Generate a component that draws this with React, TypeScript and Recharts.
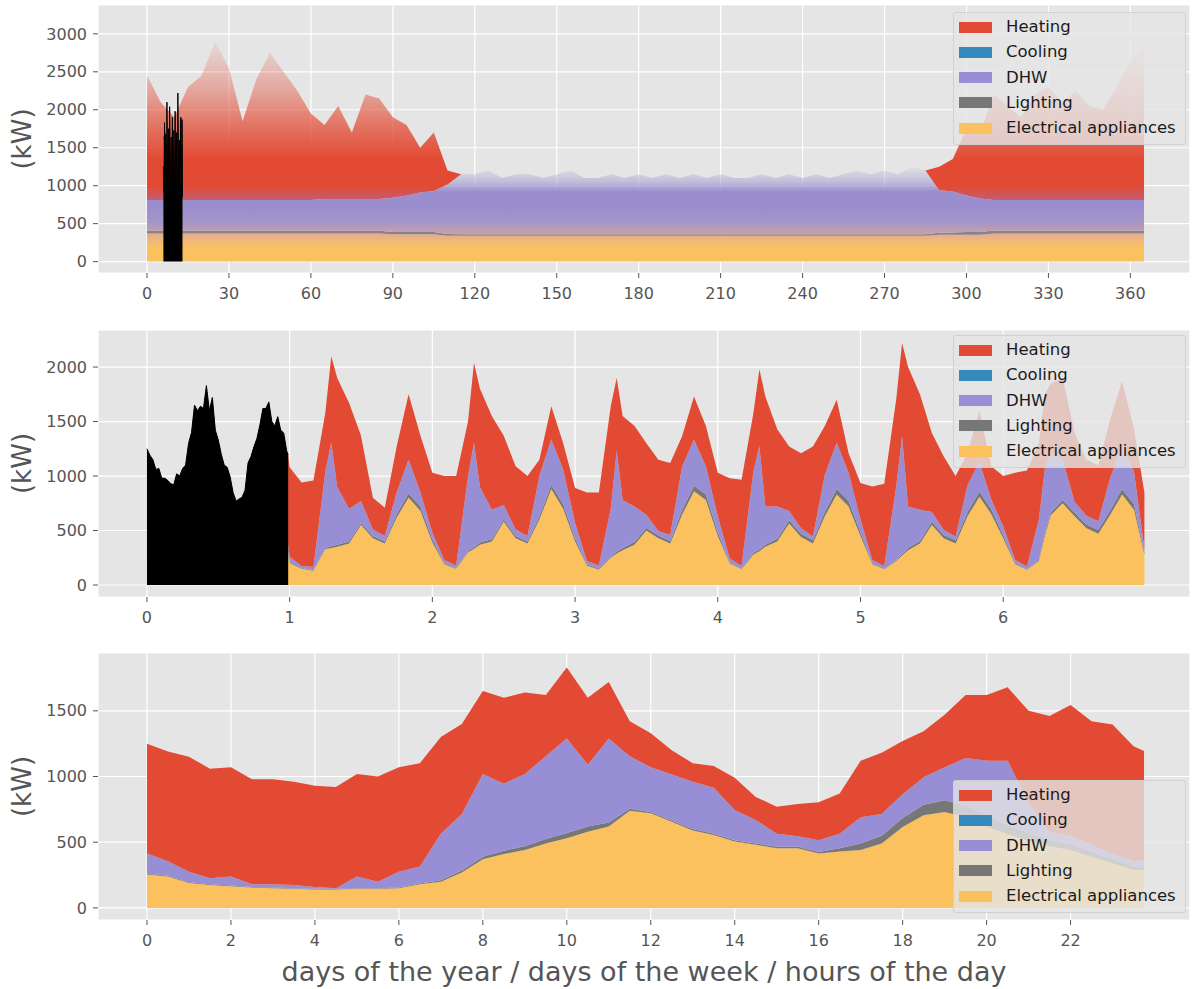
import React from "react";
import { AreaChart, Area, XAxis, YAxis, CartesianGrid } from "recharts";

const FONT = "DejaVu Sans, sans-serif";

const COLORS = {
  heating: "#E24A33",
  cooling: "#348ABD",
  dhw: "#988ED5",
  lighting: "#777777",
  appliances: "#FBC15E",
};

// ---- year (every 5 days); dhw / heating reach the top of the faint spikes ----
const yearDays = [
  0, 5, 10, 15, 20, 25, 30, 35, 40, 45, 50, 55, 60, 65, 70, 75, 80, 85, 90, 95, 100, 105, 110, 115,
  120, 125, 130, 135, 140, 145, 150, 155, 160, 165, 170, 175, 180, 185, 190, 195, 200, 205, 210, 215,
  220, 225, 230, 235, 240, 245, 250, 255, 260, 265, 270, 275, 280, 285, 290, 295, 300, 305, 310, 315,
  320, 325, 330, 335, 340, 345, 350, 355, 360, 365,
];
const yearAppliances = [
  370, 370, 370, 370, 370, 370, 370, 370, 370, 370, 370, 370, 370, 370, 370, 370, 370, 370, 360, 360,
  360, 360, 340, 340, 340, 340, 340, 340, 340, 340, 340, 340, 340, 340, 340, 340, 340, 340, 340, 340,
  340, 340, 340, 340, 340, 340, 340, 340, 340, 340, 340, 340, 340, 340, 340, 340, 340, 340, 355, 355,
  355, 355, 370, 370, 370, 370, 370, 370, 370, 370, 370, 370, 370, 370,
];
const yearLighting = [
  40, 40, 40, 40, 40, 40, 40, 40, 40, 40, 40, 40, 40, 35, 35, 35, 35, 35, 30, 30, 30, 30, 25, 20, 20,
  20, 20, 20, 20, 20, 20, 20, 20, 20, 20, 20, 20, 20, 20, 20, 20, 20, 20, 20, 20, 20, 20, 20, 20, 20,
  20, 20, 20, 20, 20, 20, 20, 20, 25, 30, 35, 35, 40, 40, 40, 40, 40, 40, 40, 40, 40, 40, 40, 40,
];
const yearDhw = [
  400, 400, 400, 400, 400, 400, 400, 400, 400, 400, 400, 400, 400, 420, 420, 420, 420, 420, 450, 480,
  520, 540, 650, 790, 790, 840, 740, 790, 790, 740, 790, 840, 740, 740, 790, 740, 790, 740, 790, 740,
  790, 740, 790, 740, 740, 790, 740, 790, 740, 790, 740, 790, 840, 790, 840, 790, 890, 840, 560, 540,
  480, 440, 400, 400, 400, 400, 400, 400, 400, 400, 400, 400, 400, 400,
];
const yearHeating = [
  1640, 1290, 1090, 1490, 1640, 2090, 1740, 1040, 1590, 1940, 1690, 1440, 1140, 975, 1225, 875, 1375,
  1325, 1060, 930, 590, 770, 185, 0, 0, 0, 0, 0, 0, 0, 0, 0, 0, 0, 0, 0, 0, 0, 0, 0, 0, 0, 0, 0, 0, 0,
  0, 0, 0, 0, 0, 0, 0, 0, 0, 0, 0, 0, 310, 425, 880, 870, 1390, 1240, 1090, 1390, 1490, 1290, 1440,
  1240, 1190, 1490, 1840, 1990,
];

// ---- first day of the week (every 30 min) ----
const dayHours = [
  0, 0.5, 1, 1.5, 2, 2.5, 3, 3.5, 4, 4.5, 5, 5.5, 6, 6.5, 7, 7.5, 8, 8.5, 9, 9.5, 10, 10.5, 11, 11.5,
  12, 12.5, 13, 13.5, 14, 14.5, 15, 15.5, 16, 16.5, 17, 17.5, 18, 18.5, 19, 19.5, 20, 20.5, 21, 21.5,
  22, 22.5, 23, 23.5, 23.75,
];
const dayAppliances = [
  255, 240, 190, 175, 165, 155, 150, 145, 140, 140, 145, 145, 150, 180, 200, 270, 370, 410, 440, 490,
  530, 580, 620, 740, 720, 655, 590, 555, 505, 480, 455, 455, 415, 430, 440, 490, 615, 705, 730, 690,
  620, 560, 510, 470, 440, 390, 340, 290, 290,
];
const dayLighting = [
  5, 5, 5, 5, 5, 5, 5, 5, 5, 5, 5, 5, 5, 5, 10, 15, 20, 25, 30, 35, 40, 40, 30, 15, 10, 10, 10, 10, 10,
  10, 10, 10, 10, 25, 50, 60, 70, 80, 90, 90, 80, 70, 60, 50, 45, 40, 30, 25, 15,
];
const dayDhw = [
  155, 110, 80, 45, 70, 20, 25, 25, 15, 5, 90, 50, 120, 130, 355, 430, 630, 510, 550, 630, 720, 470,
  640, 400, 340, 350, 360, 350, 230, 180, 100, 80, 90, 110, 200, 165, 180, 210, 250, 360, 420, 490,
  230, 60, 60, 50, 40, 40, 60,
];
const dayHeating = [
  835, 835, 875, 835, 830, 800, 800, 785, 770, 770, 780, 800, 795, 785, 735, 685, 630, 655, 620, 465,
  540, 510, 430, 265, 260, 185, 140, 165, 245, 175, 205, 245, 290, 305, 430, 465, 405, 350, 400, 480,
  500, 560, 700, 880, 1000, 940, 985, 875, 830,
];

// ---- rest of the week (every 2 h, plus the 7 h morning peak) ----
const weekHours = [
  24, 26, 28, 30, 31, 32, 34, 36, 38, 40, 42, 44, 46,
  48, 50, 52, 54, 55, 56, 58, 60, 62, 64, 66, 68, 70,
  72, 74, 76, 78, 79, 80, 82, 84, 86, 88, 90, 92, 94,
  96, 98, 100, 102, 103, 104, 106, 108, 110, 112, 114, 116, 118,
  120, 122, 124, 126, 127, 128, 130, 132, 134, 136, 138, 140, 142,
  144, 146, 148, 150, 151, 152, 154, 156, 158, 160, 162, 164, 166,
  167.75,
];
const weekAppliances = [
  200, 150, 130, 330, 340, 350, 380, 550, 430, 380, 620, 800, 680,
  390, 190, 150, 300, 330, 370, 400, 580, 430, 380, 600, 880, 700,
  400, 180, 140, 250, 290, 320, 370, 500, 430, 380, 645, 860, 780,
  450, 200, 145, 280, 310, 350, 400, 565, 440, 380, 630, 830, 720,
  450, 190, 145, 220, 270, 320, 380, 550, 430, 380, 630, 810, 650,
  430, 190, 140, 220, 450, 640, 750, 630, 520, 470, 645, 830, 690,
  280,
];
const weekLighting = [
  10, 5, 5, 10, 15, 20, 20, 20, 20, 20, 30, 40, 40,
  30, 10, 5, 15, 15, 20, 20, 20, 20, 20, 30, 40, 40,
  30, 10, 10, 10, 15, 20, 25, 25, 25, 25, 40, 50, 50,
  35, 10, 5, 15, 15, 20, 25, 30, 30, 30, 40, 50, 50,
  35, 10, 5, 10, 15, 20, 25, 30, 30, 30, 40, 45, 45,
  30, 10, 5, 10, 20, 25, 30, 35, 35, 35, 40, 50, 50,
  20,
];
const weekDhw = [
  50, 20, 30, 700, 950, 530, 300, 200, 60, 50, 200, 310, 130,
  60, 30, 25, 680, 960, 510, 270, 135, 60, 50, 370, 415, 320,
  140, 30, 30, 440, 930, 440, 325, 120, 40, 55, 400, 425, 260,
  145, 35, 25, 750, 950, 350, 295, 85, 50, 35, 340, 425, 260,
  115, 30, 25, 670, 1080, 380, 285, 90, 45, 35, 245, 275, 90,
  80, 30, 25, 370, 600, 545, 370, 100, 80, 80, 300, 400, 300,
  30,
];
const weekHeating = [
  820, 765, 795, 540, 795, 1000, 970, 600, 290, 260, 420, 600, 520,
  550, 770, 820, 505, 735, 900, 860, 635, 580, 550, 150, 305, 240,
  320, 630, 670, 940, 665, 770, 740, 655, 655, 660, 280, 395, 370,
  400, 735, 790, 535, 705, 1010, 710, 590, 690, 825, 450, 395, 180,
  335, 675, 755, 800, 855, 1280, 1060, 725, 675, 555, 295, 470, 305,
  460, 800, 880, 700, 680, 640, 750, 635, 515, 515, 535, 590, 390,
  520,
];

const WEEK_START_DAY = 6;

const yearTicks = [0, 30, 60, 90, 120, 150, 180, 210, 240, 270, 300, 330, 360];
const weekTicks = [0, 1, 2, 3, 4, 5, 6];
const hourTicks = [0, 2, 4, 6, 8, 10, 12, 14, 16, 18, 20, 22];

type Row = { x: number; appl: number; light: number; dhw: number; heat: number };
type TotalRow = { x: number; total: number };

const yearData: Row[] = yearDays.map((d, i) => ({
  x: d,
  appl: yearAppliances[i],
  light: yearLighting[i],
  dhw: yearDhw[i],
  heat: yearHeating[i],
}));

const dayData: Row[] = dayHours.map((h, i) => ({
  x: h,
  appl: dayAppliances[i],
  light: dayLighting[i],
  dhw: dayDhw[i],
  heat: dayHeating[i],
}));

const weekData: Row[] = [
  ...dayData.map((r) => ({ ...r, x: r.x / 24 })),
  ...weekHours.map((h, i) => ({
    x: h / 24,
    appl: weekAppliances[i],
    light: weekLighting[i],
    dhw: weekDhw[i],
    heat: weekHeating[i],
  })),
];

const total = (r: Row) => r.appl + r.light + r.dhw + r.heat;

// black highlight: the day inside the week, the week inside the year
const dayInWeek: TotalRow[] = dayData.map((r) => ({ x: r.x / 24, total: total(r) }));
const weekInYear: TotalRow[] = weekData.map((r) => ({ x: WEEK_START_DAY + r.x, total: total(r) }));

const LEGEND_ITEMS = [
  { label: "Heating", color: COLORS.heating },
  { label: "Cooling", color: COLORS.cooling },
  { label: "DHW", color: COLORS.dhw },
  { label: "Lighting", color: COLORS.lighting },
  { label: "Electrical appliances", color: COLORS.appliances },
];

function LegendBox({ top }: { top: number }) {
  return (
    <div
      style={{
        position: "absolute",
        left: 953,
        top,
        width: 233,
        height: 133,
        boxSizing: "border-box",
        background: "rgba(229,229,229,0.8)",
        border: "1px solid rgba(204,204,204,0.8)",
        borderRadius: 3,
        fontFamily: FONT,
        fontSize: 16.5,
        color: "#1a1a1a",
      }}
    >
      {LEGEND_ITEMS.map((it, i) => (
        <React.Fragment key={it.label}>
          <div
            style={{
              position: "absolute",
              left: 5,
              top: 14 + i * 25.3 - 5.5,
              width: 33,
              height: 11,
              background: it.color,
            }}
          />
          <div
            style={{
              position: "absolute",
              left: 52,
              top: 14 + i * 25.3 - 10,
              lineHeight: "20px",
              whiteSpace: "nowrap",
            }}
          >
            {it.label}
          </div>
        </React.Fragment>
      ))}
    </div>
  );
}

// [value in kW, colour, opacity] — the year plot blends hourly spikes into soft bands
type Stop = [number, string, number];
const blendStops: Record<string, Stop[]> = {
  appl: [
    [0, "#FBC15E", 1],
    [170, "#FBC15E", 1],
    [270, "#F1B878", 1],
    [420, "#D9A697", 1],
  ],
  light: [
    [0, "#8E8088", 1],
    [500, "#8E8088", 1],
  ],
  dhw: [
    [300, "#D6A69C", 1],
    [520, "#A595C8", 1],
    [700, "#9A8ECE", 1],
    [920, "#9A8ECE", 1],
    [1050, "#A39AD0", 0.55],
    [1200, "#ABA4D0", 0.2],
    [1320, "#B0A8D0", 0],
  ],
  heat: [
    [760, "#BC6282", 1],
    [1000, "#E24A33", 1],
    [1350, "#E24A33", 1],
    [1800, "#E24A33", 0.72],
    [2300, "#E24A33", 0.38],
    [2800, "#E24A33", 0.12],
    [3200, "#E24A33", 0],
  ],
};

interface PanelProps {
  id: string;
  top: number;
  height: number;
  marginTop: number;
  xAxisHeight: number;
  data: Row[];
  highlight: TotalRow[];
  xDomain: [number, number];
  xTicks: number[];
  yDomain: [number, number];
  yTicks: number[];
  legendTop: number;
  blend?: boolean;
  xLabel?: string;
}

const tickStyle = { fill: "#555555", fontSize: 16, fontFamily: FONT };

function Panel(p: PanelProps) {
  const margin = { top: p.marginTop, right: 2, bottom: 0, left: 0 };
  const plotH = p.height - p.marginTop - p.xAxisHeight;
  const toPx = (v: number) =>
    p.marginTop + ((p.yDomain[1] - v) / (p.yDomain[1] - p.yDomain[0])) * plotH;
  const GRAD_TOP = 3300;

  const areaCommon = {
    type: "linear" as const,
    stackId: "load",
    stroke: "none",
    fillOpacity: 1,
    isAnimationActive: false,
    dot: false,
    activeDot: false,
  };
  const fillFor = (key: string, color: string) => (p.blend ? `url(#${p.id}-${key})` : color);

  return (
    <div style={{ position: "absolute", left: 0, top: p.top, width: 1192, height: p.height }}>
      <AreaChart width={1192} height={p.height} data={p.data} margin={margin}>
        {p.blend && (
          <defs>
            {Object.entries(blendStops).map(([key, stops]) => (
              <linearGradient
                key={key}
                id={`${p.id}-${key}`}
                gradientUnits="userSpaceOnUse"
                x1={0}
                x2={0}
                y1={toPx(GRAD_TOP)}
                y2={toPx(0)}
              >
                {[...stops].reverse().map(([v, c, o], i) => (
                  <stop key={i} offset={(GRAD_TOP - v) / GRAD_TOP} stopColor={c} stopOpacity={o} />
                ))}
              </linearGradient>
            ))}
          </defs>
        )}
        <CartesianGrid fill="#E5E5E5" stroke="#FFFFFF" strokeWidth={1.2} />
        <XAxis
          type="number"
          dataKey="x"
          domain={p.xDomain}
          ticks={p.xTicks}
          allowDataOverflow
          interval={0}
          height={p.xAxisHeight}
          tickSize={5}
          tickMargin={10}
          axisLine={false}
          tickLine={{ stroke: "#555555" }}
          tick={tickStyle}
          label={
            p.xLabel
              ? {
                  value: p.xLabel,
                  position: "insideBottom",
                  offset: 8,
                  fontSize: 27,
                  fill: "#555555",
                  fontFamily: FONT,
                }
              : undefined
          }
        />
        <YAxis
          type="number"
          domain={p.yDomain}
          ticks={p.yTicks}
          allowDataOverflow
          interval={0}
          width={98}
          tickSize={5}
          tickMargin={6}
          axisLine={false}
          tickLine={{ stroke: "#555555" }}
          tick={tickStyle}
          label={{
            value: "(kW)",
            angle: -90,
            position: "insideLeft",
            offset: 22,
            fontSize: 26,
            fill: "#555555",
            fontFamily: FONT,
            style: { textAnchor: "middle" },
          }}
        />
        <Area {...areaCommon} dataKey="appl" fill={fillFor("appl", COLORS.appliances)} />
        <Area {...areaCommon} dataKey="light" fill={fillFor("light", COLORS.lighting)} />
        <Area {...areaCommon} dataKey="dhw" fill={fillFor("dhw", COLORS.dhw)} />
        <Area {...areaCommon} dataKey="heat" fill={fillFor("heat", COLORS.heating)} />
      </AreaChart>
      <div style={{ position: "absolute", left: 0, top: 0 }}>
        <AreaChart width={1192} height={p.height} data={p.highlight} margin={margin}>
          <XAxis
            type="number"
            dataKey="x"
            domain={p.xDomain}
            allowDataOverflow
            height={p.xAxisHeight}
            tick={false}
            tickLine={false}
            axisLine={false}
          />
          <YAxis
            type="number"
            domain={p.yDomain}
            allowDataOverflow
            width={98}
            tick={false}
            tickLine={false}
            axisLine={false}
          />
          <Area
            type="linear"
            dataKey="total"
            fill="#000000"
            fillOpacity={1}
            stroke="#000000"
            strokeWidth={1}
            isAnimationActive={false}
            dot={false}
            activeDot={false}
          />
        </AreaChart>
      </div>
      <LegendBox top={p.legendTop} />
    </div>
  );
}

export default function App() {
  return (
    <div
      style={{
        position: "absolute",
        left: 0,
        top: 0,
        width: 1192,
        height: 989,
        background: "#FFFFFF",
        overflow: "hidden",
      }}
    >
      <Panel
        id="year"
        top={0}
        height={320}
        marginTop={5}
        xAxisHeight={47}
        data={yearData}
        highlight={weekInYear}
        xDomain={[-17.94, 381.83]}
        xTicks={yearTicks}
        yDomain={[-150, 3380]}
        yTicks={[0, 500, 1000, 1500, 2000, 2500, 3000]}
        legendTop={12}
        blend
      />
      <Panel
        id="week"
        top={320}
        height={320}
        marginTop={10}
        xAxisHeight={43}
        data={weekData}
        highlight={dayInWeek}
        xDomain={[-0.343, 7.309]}
        xTicks={weekTicks}
        yDomain={[-110, 2340]}
        yTicks={[0, 500, 1000, 1500, 2000]}
        legendTop={15}
      />
      <Panel
        id="day"
        top={640}
        height={349}
        marginTop={13}
        xAxisHeight={69}
        data={dayData}
        highlight={[]}
        xDomain={[-1.167, 24.845]}
        xTicks={hourTicks}
        yDomain={[-92, 1940]}
        yTicks={[0, 500, 1000, 1500]}
        legendTop={140}
        xLabel="days of the year / days of the week / hours of the day"
      />
    </div>
  );
}
